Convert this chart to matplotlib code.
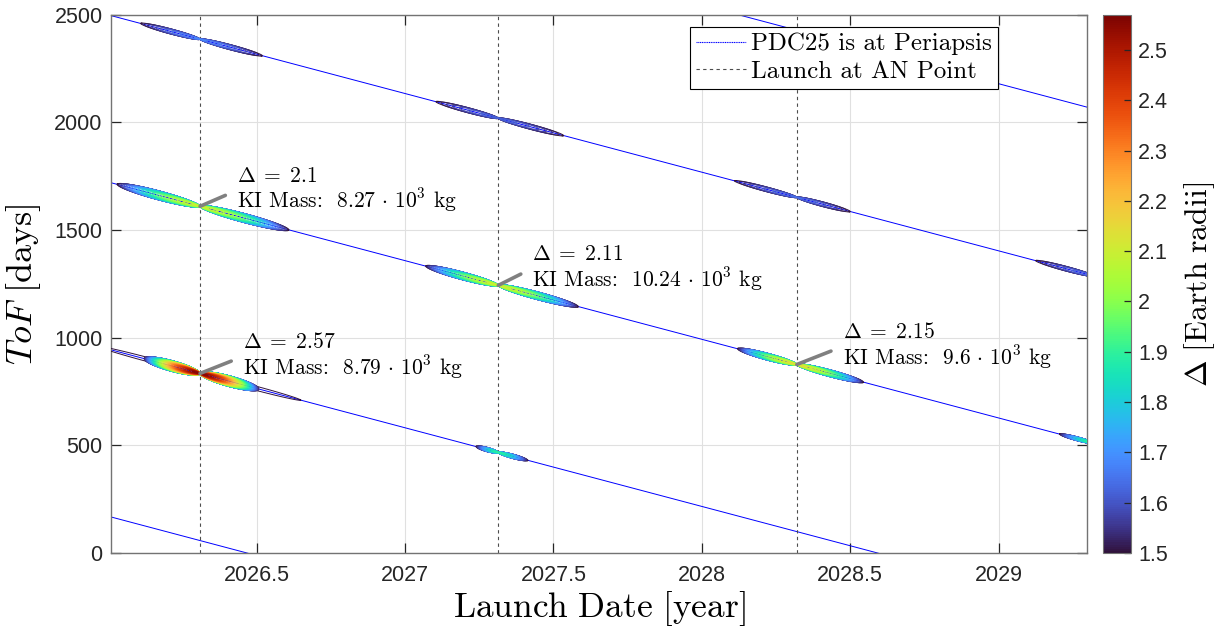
import numpy as np
import matplotlib
matplotlib.use("Agg")
import matplotlib.pyplot as plt
from matplotlib.colors import Normalize
from matplotlib.lines import Line2D
from matplotlib.ticker import FuncFormatter

plt.rcParams["mathtext.fontset"] = "cm"
plt.rcParams["font.family"] = ["Liberation Sans", "DejaVu Sans"]

DAYS_PER_YEAR = 365.25

# periapsis passages of PDC25 [decimal year]; each one is a line of constant arrival date
periapsis_dates = [2026.467, 2028.592, 2030.717, 2032.842, 2034.967]
# launch dates with Earth at the ascending node
an_launch_dates = [2026.309, 2027.314, 2028.320]

# Delta islands where a periapsis line crosses an AN launch date
island_arrival = [2028.592, 2028.592, 2030.717, 2030.717, 2030.717, 2030.717,
                  2032.842, 2032.842, 2032.842, 2032.842]
island_launch = [2026.309, 2027.314, 2026.309, 2027.314, 2028.320, 2029.325,
                 2026.309, 2027.314, 2028.320, 2029.325]
island_peak = [2.57, 1.90, 2.10, 2.11, 2.15, 1.92, 1.68, 1.63, 1.64, 1.64]
island_left = [0.19, 0.075, 0.28, 0.245, 0.20, 0.12, 0.20, 0.21, 0.21, 0.20]   # years
island_right = [0.20, 0.10, 0.30, 0.27, 0.225, 0.10, 0.21, 0.22, 0.18, 0.18]  # years
island_halfwidth = [25, 10, 21, 18, 16, 9, 12, 12, 11, 11]                   # days
island_tail = [0.34, 0, 0, 0, 0, 0, 0, 0, 0, 0]                             # years

# best impact opportunities
opt_arrival = [2030.717, 2028.592, 2030.717, 2030.717]
opt_launch = [2026.309, 2026.309, 2027.314, 2028.320]
opt_delta = [2.1, 2.57, 2.11, 2.15]
opt_mass = ["8.27", "8.79", "10.24", "9.6"]

x_range = (2026.009, 2029.298)
delta_min, delta_max = 1.5, 2.57


def island_field(u, v, peak, left, right, halfwidth, alpha=0.35):
    """Two lobes pinched at the crossing point, Delta falling off along the line."""
    span = np.where(u < 0, left, right)
    s = np.abs(u) / span
    w = 2 * halfwidth * np.sqrt(np.clip(s * (1 - s), 0, None))
    q = 1 - (v / np.maximum(w, 1e-9)) ** 2
    inside = (s < 1) & (q > 0)
    g = 1 - s ** 2
    val = delta_min + (peak - delta_min) * g * np.clip(q, 0, None) ** alpha
    return np.where(inside, val, delta_min - 0.1)


fig = plt.figure(figsize=(12.2, 6.33), dpi=100)
ax = fig.add_axes([0.0910, 0.1264, 0.8, 0.8504])
cax = fig.add_axes([0.9041, 0.1264, 0.02295, 0.8504])

cmap = plt.get_cmap("turbo")
norm = Normalize(delta_min, delta_max)
levels = np.linspace(delta_min, delta_max, 55)

# periapsis lines
t = np.linspace(x_range[0] - 0.05, x_range[1] + 0.05, 50)
for arr in periapsis_dates:
    ax.plot(t, (arr - t) * DAYS_PER_YEAR, color="blue", lw=0.7, zorder=2)

# AN launch dates
for d in an_launch_dates:
    ax.axvline(d, color="0.3", lw=0.8, ls=(0, (3, 3)), zorder=2.5)

# contour islands, built on a grid that follows each periapsis line
for arr, lau, pk, lft, rgt, hw, tl in zip(island_arrival, island_launch, island_peak,
                                          island_left, island_right, island_halfwidth,
                                          island_tail):
    ul = max(lft, tl) * 1.02
    ur = max(rgt, tl) * 1.02
    u = np.linspace(-ul, ur, 900)
    v = np.linspace(-1.15 * hw, 1.15 * hw, 241)
    U, V = np.meshgrid(u, v)
    Z = island_field(U, V, pk, lft, rgt, hw)
    if tl > 0:
        Z = np.maximum(Z, island_field(U, V, delta_min + 0.01, tl, tl, 0.4 * hw,
                                       alpha=1.0))
    X = lau + U
    Y = (arr - X) * DAYS_PER_YEAR + V
    ax.contour(X, Y, Z, levels=levels, cmap=cmap, norm=norm,
               linewidths=0.7, zorder=3)

# annotations
text_offsets = [(37, 16), (43, 17), (34, 17), (46, 18)]
for arr, lau, dv, m, off in zip(opt_arrival, opt_launch, opt_delta, opt_mass,
                                text_offsets):
    tof = (arr - lau) * DAYS_PER_YEAR
    label = (rf"$\Delta\;=\;{dv:g}$" + "\n"
             + rf"KI Mass:  ${m}\,\cdot\,10^3$ kg")
    ax.annotate(label, xy=(lau, tof), xytext=off, textcoords="offset pixels",
                ha="left", va="center", fontsize=15.5, linespacing=1.05,
                family="cmr10", zorder=5,
                arrowprops=dict(arrowstyle="-", color="0.5", lw=2.6,
                                shrinkA=7, shrinkB=0, relpos=(0, 0.5)))

ax.set_xlim(*x_range)
ax.set_ylim(0, 2500)
ax.set_xticks([2026.5, 2027, 2027.5, 2028, 2028.5, 2029])
ax.set_yticks([0, 500, 1000, 1500, 2000, 2500])
ax.xaxis.set_major_formatter(FuncFormatter(lambda x, _: f"{x:g}"))
ax.grid(True, color="0.88", lw=0.8, zorder=0)
ax.set_axisbelow(True)
ax.tick_params(direction="in", length=7, width=0.9, color="0.15",
               labelsize=15.5, labelcolor="0.15", top=True, right=True)
ax.tick_params(axis="x", pad=9)
ax.tick_params(axis="y", pad=6)
for sp in ax.spines.values():
    sp.set_color("0.45")
    sp.set_linewidth(1.0)

ax.set_xlabel(r"$\mathrm{Launch\ Date\ [year]}$", fontsize=25.5, labelpad=2)
ax.set_ylabel(r"$ToF\ \mathrm{[days]}$", fontsize=26, labelpad=8)

handles = [Line2D([], [], color="blue", lw=0.8, ls=(0, (1, 0.6))),
           Line2D([], [], color="0.3", lw=0.8, ls=(0, (3, 3)))]
leg = ax.legend(handles, ["PDC25 is at Periapsis", "Launch at AN Point"],
                loc="upper right", bbox_to_anchor=(0.9088, 0.978),
                borderaxespad=0, prop={"family": "cmr10", "size": 18},
                handlelength=2.0, handletextpad=0.2, borderpad=0.25,
                labelspacing=0.2, fancybox=False, framealpha=1,
                edgecolor="black")
leg.get_frame().set_linewidth(0.8)
leg.set_zorder(6)

cb = fig.colorbar(plt.cm.ScalarMappable(norm=norm, cmap=cmap), cax=cax)
cb.set_ticks(np.arange(1.5, 2.51, 0.1))
cb.ax.yaxis.set_major_formatter(FuncFormatter(lambda x, _: f"{x:g}"))
cb.ax.tick_params(direction="in", length=5, width=0.9, color="0.15",
                  labelsize=15.5, labelcolor="0.15", pad=5)
cb.outline.set_edgecolor("0.45")
cb.set_label(r"$\Delta\ \mathrm{[Earth\ radii]}$", fontsize=23, labelpad=10)

fig.savefig("out.png", dpi=100)
